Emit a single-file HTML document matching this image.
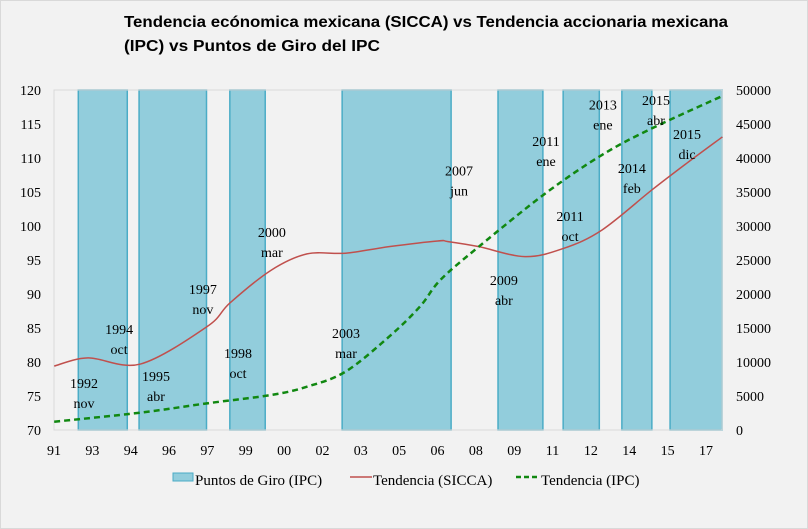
<!DOCTYPE html>
<html><head><meta charset="utf-8"><style>
body{margin:0;background:#f2f2f2;}
svg{display:block;font-family:"Liberation Serif",serif;}
</style></head><body>
<svg id="chart" width="808" height="529" xmlns="http://www.w3.org/2000/svg">
<rect x="0.5" y="0.5" width="807" height="528" fill="#f2f2f2" stroke="#d9d9d9"/>
<text x="124" y="27" font-family="Liberation Sans, sans-serif" font-weight="bold" font-size="16" textLength="604" lengthAdjust="spacingAndGlyphs">Tendencia ecónomica mexicana (SICCA) vs Tendencia accionaria mexicana</text>
<text x="124" y="51" font-family="Liberation Sans, sans-serif" font-weight="bold" font-size="16" textLength="256" lengthAdjust="spacingAndGlyphs">(IPC) vs Puntos de Giro del IPC</text>
<g id="bands"></g>
<rect x="54" y="90" width="668" height="340" fill="none" stroke="#d9d9d9"/>
<g id="lines"></g>
<g id="labels"></g>
<g id="axes"></g>
<g font-size="15">
<rect x="173" y="473" width="20" height="8" fill="#92cddc" stroke="#4bacc6"/>
<text x="195" y="485">Puntos de Giro (IPC)</text>
<line x1="350" y1="477" x2="372" y2="477" stroke="#c0504d" stroke-width="1.5"/>
<text x="373" y="485">Tendencia (SICCA)</text>
<line x1="516" y1="477" x2="540" y2="477" stroke="#118811" stroke-width="2.5" stroke-dasharray="5,3"/>
<text x="541" y="485">Tendencia (IPC)</text>
</g>
</svg>
<script>
const bandStarts=[1992.88,1995.25,1998.79,2003.17,2009.25,2011.79,2014.08,2015.96];
const bandEnds=[1994.79,1997.88,2000.17,2007.42,2011.0,2013.2,2015.25,2018.0];
const siccaT=[1991.94,1993.26,1995.3,1997.9,1998.8,2000.4,2001.8,2003.3,2005.0,2006.9,2007.3,2008.5,2010.3,2011.8,2013.3,2015.25,2016.6,2018.0];
const siccaV=[79.4,80.6,79.7,85.2,88.7,93.5,95.9,96.0,96.96,97.8,97.7,96.96,95.5,96.7,99.4,105.3,109.2,113.1];
const ipcT=[1991.94,1995.3,1997.9,2000.4,2001.8,2003.3,2005.0,2006.2,2007.0,2008.5,2011.1,2013.3,2015.25,2018.0];
const ipcV=[1220,2550,3920,5150,6370,8580,13720,18130,22060,26960,34800,40440,44360,49120];
const xTickLabels=["91","93","94","96","97","99","00","02","03","05","06","08","09","11","12","14","15","17"];
const leftTicks=[70,75,80,85,90,95,100,105,110,115,120];
const rightTicks=[0,5000,10000,15000,20000,25000,30000,35000,40000,45000,50000];
const notes=[["1992","nov",1993.1,76.2],["1994","oct",1994.47,84.1],["1995","abr",1995.91,77.2],["1997","nov",1997.74,90.0],["1998","oct",1999.11,80.6],["2000","mar",2000.43,98.4],["2003","mar",2003.32,83.5],["2007","jun",2007.73,107.4],["2009","abr",2009.48,91.3],["2011","ene",2011.12,111.8],["2011","oct",2012.06,100.7],["2013","ene",2013.34,117.1],["2014","feb",2014.47,107.8],["2015","abr",2015.41,117.8],["2015","dic",2016.62,112.8]];
const NS="http://www.w3.org/2000/svg";
const X0=54,X1=722,Y0=430,Y1=90;
function xs(t){return 78.3+(t-1992.88)*25.64;}
function yl(v){return Y0-(v-70)/50*(Y0-Y1);}
function yr(v){return Y0-v/50000*(Y0-Y1);}
function mk(tag,attrs,parent){const e=document.createElementNS(NS,tag);for(const k in attrs)e.setAttribute(k,attrs[k]);parent.appendChild(e);return e;}
const bandsG=document.getElementById('bands');
bandStarts.forEach((s,i)=>{
  const a=Math.max(X0,xs(s)),b=Math.min(X1,xs(bandEnds[i]));
  const r=mk('rect',{x:a,y:Y1,width:b-a,height:Y0-Y1,fill:'#92cddc',stroke:'#4bacc6','stroke-width':1.5},bandsG);
  
  
});
function smooth(pts){let d='M'+pts[0][0]+','+pts[0][1];for(let i=0;i<pts.length-1;i++){const p0=pts[i-1]||pts[i],p1=pts[i],p2=pts[i+1],p3=pts[i+2]||p2;const c1=[p1[0]+(p2[0]-p0[0])/6,p1[1]+(p2[1]-p0[1])/6],c2=[p2[0]-(p3[0]-p1[0])/6,p2[1]-(p3[1]-p1[1])/6];d+=' C'+c1+' '+c2+' '+p2;}return d;}
const linesG=document.getElementById('lines');
const s=mk('path',{d:smooth(siccaT.map((t,i)=>[xs(t),yl(siccaV[i])])),fill:'none',stroke:'#c0504d','stroke-width':1.5},linesG);


const g=mk('path',{d:smooth(ipcT.map((t,i)=>[xs(t),yr(ipcV[i])])),fill:'none',stroke:'#118811','stroke-width':2.5,'stroke-dasharray':'6,4'},linesG);


const labG=document.getElementById('labels');
notes.forEach(n=>{
  const x=xs(n[2]),y=yl(n[3]);
  const t1=mk('text',{x:x,y:y,'text-anchor':'middle','font-size':14},labG);t1.textContent=n[0];
  
  
  const t2=mk('text',{x:x,y:y+20,'text-anchor':'middle','font-size':14},labG);t2.textContent=n[1];
  
  
});
const axG=document.getElementById('axes');
leftTicks.forEach(v=>{const t=mk('text',{x:41,y:yl(v)+5,'text-anchor':'end','font-size':14},axG);t.textContent=v;
  
  });
rightTicks.forEach(v=>{const t=mk('text',{x:736,y:yr(v)+5,'font-size':14},axG);t.textContent=v;
  
  });
xTickLabels.forEach((l,i)=>{const t=mk('text',{x:54+i*38.35,y:455,'text-anchor':'middle','font-size':14},axG);t.textContent=l;
  
  });
</script>
</body></html>
